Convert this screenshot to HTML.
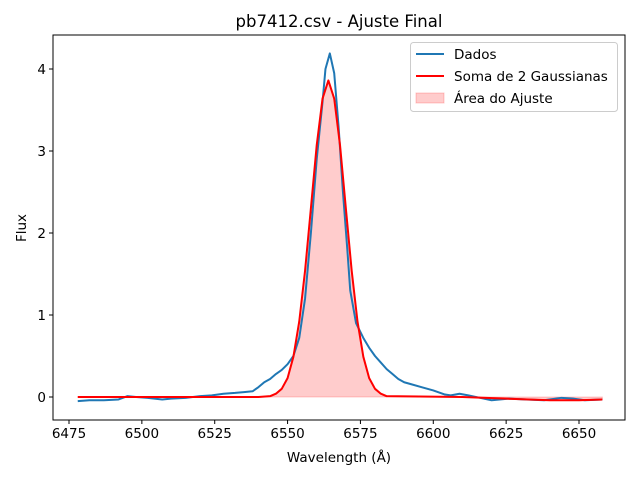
<!DOCTYPE html>
<html><head><meta charset="utf-8"><style>
body{margin:0;background:#fff}
svg text{font-family:"DejaVu Sans","Liberation Sans",sans-serif;fill:#000}
</style></head><body>
<svg id="chart" width="640" height="480" xmlns="http://www.w3.org/2000/svg">
<text x="339" y="27" font-size="16.5" text-anchor="middle">pb7412.csv - Ajuste Final</text>
<g id="plot"></g>
<text x="339" y="462" font-size="13.5" text-anchor="middle">Wavelength (Å)</text>
<text transform="translate(26,228) rotate(-90)" font-size="13.5" text-anchor="middle">Flux</text>
<g>
<rect x="410.5" y="42.5" width="207" height="69" rx="3" fill="#fff" fill-opacity="0.8" stroke="#ccc"/>
<line x1="416" y1="54" x2="444" y2="54" stroke="#1f77b4" stroke-width="2"/>
<text x="454" y="59" font-size="13.5">Dados</text>
<line x1="416" y1="76" x2="444" y2="76" stroke="#ff0000" stroke-width="2"/>
<text x="454" y="81" font-size="13.5">Soma de 2 Gaussianas</text>
<rect x="416" y="93" width="28" height="10" fill="#ff0000" fill-opacity="0.2" stroke="#ff0000" stroke-opacity="0.2"/>
<text x="454" y="103" font-size="13.5">Área do Ajuste</text>
</g>
</svg>
<script>
const dataX=[6478,6482,6487,6492,6495,6498,6502,6507,6510,6515,6520,6524,6528,6532,6535,6538,6540,6542,6544,6546,6548,6550,6552,6554,6556,6558,6560,6562,6563,6564.5,6566,6567.5,6569,6570.5,6571.5,6573.5,6576,6578,6580,6582,6584,6586,6588,6590,6592,6596,6600,6604,6606,6609,6612,6616,6620,6626,6632,6638,6644,6648,6652,6658];
const dataY=[-0.05,-0.04,-0.04,-0.03,0.01,0,-0.01,-0.03,-0.02,-0.01,0.01,0.02,0.04,0.05,0.06,0.07,0.12,0.18,0.22,0.28,0.33,0.4,0.5,0.72,1.2,2.0,2.9,3.6,4.0,4.19,3.95,3.3,2.5,1.8,1.3,0.9,0.72,0.6,0.5,0.42,0.34,0.28,0.22,0.18,0.16,0.12,0.08,0.03,0.02,0.04,0.02,-0.01,-0.04,-0.02,-0.03,-0.04,-0.01,-0.02,-0.04,-0.03];
const fitX=[6478,6540,6544,6546,6548,6550,6552,6554,6556,6558,6560,6562,6564,6566,6568,6570,6572,6574,6576,6578,6580,6582,6584,6610,6625,6640,6650,6658];
const fitY=[0,0,0.01,0.04,0.10,0.23,0.49,0.92,1.54,2.30,3.07,3.64,3.86,3.64,3.07,2.30,1.54,0.92,0.49,0.23,0.10,0.04,0.01,0,-0.02,-0.04,-0.04,-0.03];
const xTicks=[6475,6500,6525,6550,6575,6600,6625,6650];
const yTicks=[0,1,2,3,4];
const L=53,R=625,T=35,B=420;
const sx=v=>68+(v-6475)*510/175+1;
const sy=v=>397-v*82;
const NS="http://www.w3.org/2000/svg";
const g=document.getElementById('plot');
function mk(t,a){const e=document.createElementNS(NS,t);for(const k in a)e.setAttribute(k,a[k]);g.appendChild(e);return e;}
let fp=`M${sx(fitX[0])},${sy(0)}`+fitX.map((x,i)=>`L${sx(x)},${sy(fitY[i])}`).join('')+`L${sx(fitX[fitX.length-1])},${sy(0)}Z`;
const area=mk('path',{d:fp,fill:'#ff0000','fill-opacity':0.2,stroke:'#ff0000','stroke-opacity':0.2});


const dl=mk('path',{d:'M'+dataX.map((x,i)=>`${sx(x)},${sy(dataY[i])}`).join('L'),fill:'none',stroke:'#1f77b4','stroke-width':2,'stroke-linejoin':'round'});


const fl=mk('path',{d:'M'+fitX.map((x,i)=>`${sx(x)},${sy(fitY[i])}`).join('L'),fill:'none',stroke:'#ff0000','stroke-width':2,'stroke-linejoin':'round'});


const fr=mk('rect',{x:L,y:T,width:R-L,height:B-T,fill:'none',stroke:'#000','stroke-width':1});


xTicks.forEach(v=>{const x=sx(v);mk('line',{x1:x,x2:x,y1:B,y2:B+4,stroke:'#000'});
const t=mk('text',{x:x,y:B+18,'font-size':13.5,'text-anchor':'middle'});t.textContent=v;

});
yTicks.forEach(v=>{const y=sy(v);mk('line',{x1:L-4,x2:L,y1:y,y2:y,stroke:'#000'});
const t=mk('text',{x:L-7,y:y+5,'font-size':13.5,'text-anchor':'end'});t.textContent=v;

});
</script>
</body></html>
